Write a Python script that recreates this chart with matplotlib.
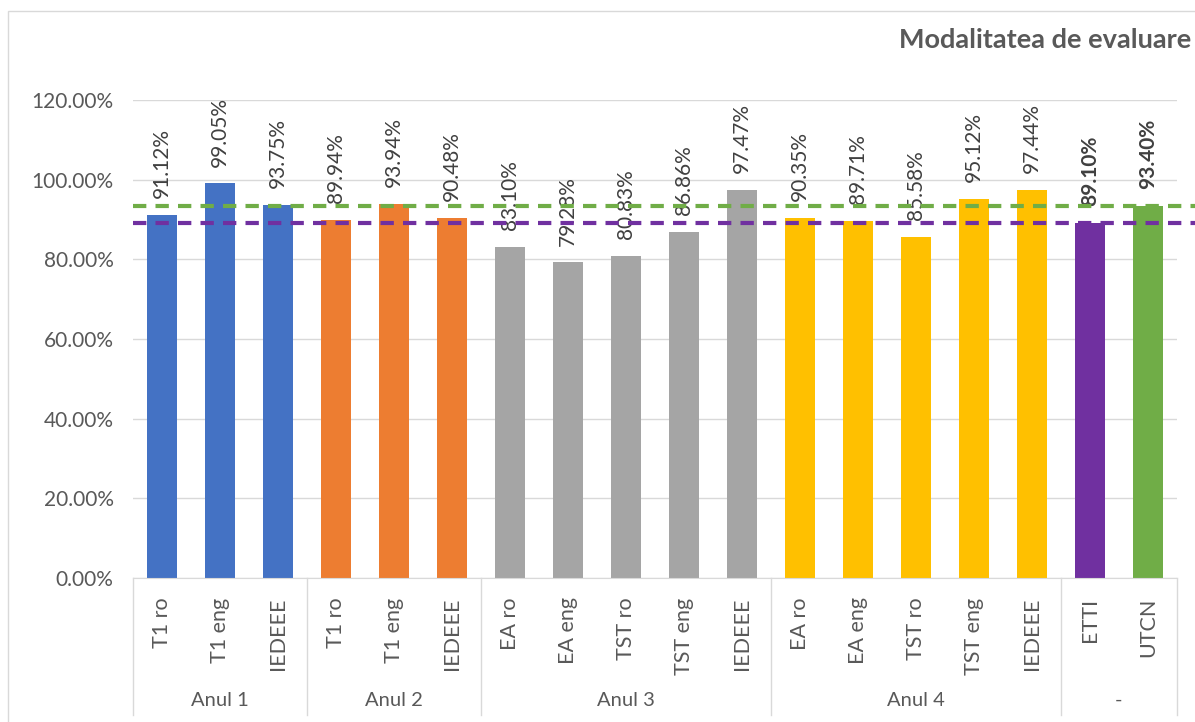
import matplotlib
matplotlib.use("Agg")
import matplotlib.pyplot as plt
from matplotlib.patches import Rectangle
from matplotlib.ticker import FuncFormatter

plt.rcParams['font.family'] = ['Lato', 'DejaVu Sans']

# date
categorii = ['T1 ro', 'T1 eng', 'IEDEEE',
             'T1 ro', 'T1 eng', 'IEDEEE',
             'EA ro', 'EA eng', 'TST ro', 'TST eng', 'IEDEEE',
             'EA ro', 'EA eng', 'TST ro', 'TST eng', 'IEDEEE',
             'ETTI', 'UTCN']
valori = [91.12, 99.05, 93.75,
          89.94, 93.94, 90.48,
          83.10, 79.28, 80.83, 86.86, 97.47,
          90.35, 89.71, 85.58, 95.12, 97.44,
          89.10, 93.40]
grupuri = ['Anul 1', 'Anul 2', 'Anul 3', 'Anul 4', '-']
marimi_grup = [3, 3, 5, 5, 2]
culori_grup = ['#4472C4', '#ED7D31', '#A5A5A5', '#FFC000', None]
culori_final = ['#7030A0', '#70AD47']
medie_etti = 89.10
medie_utcn = 93.40

culori = []
for c, n in zip(culori_grup, marimi_grup):
    if c is not None:
        culori += [c] * n
culori += culori_final

W, H = 1195, 722
fig = plt.figure(figsize=(W / 100, H / 100), dpi=100)
fig.patches.append(Rectangle((8 / W, -0.1), 1.2, (H - 11) / H + 0.1,
                             transform=fig.transFigure, fill=False,
                             edgecolor='#d9d9d9', linewidth=1))

ax = fig.add_axes([133 / W, (H - 578) / H, (1177 - 133) / W, (578 - 100) / H])
x = list(range(len(valori)))
ax.bar(x, [v / 100 for v in valori], width=0.52, color=culori, zorder=2)

ax.set_xlim(-0.5, len(valori) - 0.5)
ax.set_ylim(0, 1.2)
ax.set_yticks([i * 0.2 for i in range(7)])
ax.yaxis.set_major_formatter(FuncFormatter(lambda v, p: f'{v * 100:.2f}%'))
ax.grid(axis='y', color='#d9d9d9', linewidth=1, zorder=0)
for s in ['top', 'right', 'left']:
    ax.spines[s].set_visible(False)
ax.spines['bottom'].set_color('#d9d9d9')
ax.tick_params(axis='y', length=0, pad=14, labelsize=15, labelcolor='#595959')
ax.tick_params(axis='x', length=0, pad=14, labelsize=15.5, labelcolor='#595959')
ax.set_xticks(x)
ax.set_xticklabels(categorii, rotation=90)

# etichete
for i, v in enumerate(valori):
    bold = i >= len(valori) - 2
    ax.annotate(f'{v:.2f}%', (i, v / 100), xytext=(0, 12), textcoords='offset points',
                rotation=90, ha='center', va='bottom', fontsize=15, color='#404040',
                fontweight='bold' if bold else 'normal', zorder=3)

# grupuri pe axa x
start = -0.5
sep_y = -(715 - 578) / 478
ax.plot([start, start], [0, sep_y], transform=ax.get_xaxis_transform(),
        color='#d9d9d9', linewidth=1, clip_on=False)
for g, n in zip(grupuri, marimi_grup):
    end = start + n
    ax.plot([end, end], [0, sep_y], transform=ax.get_xaxis_transform(),
            color='#d9d9d9', linewidth=1, clip_on=False)
    ax.text((start + end) / 2, -(700 - 578) / 478, g, transform=ax.get_xaxis_transform(),
            ha='center', va='center', fontsize=14.5, color='#595959')
    start = end

# linii medii
for val, col in [(medie_utcn, '#70AD47'), (medie_etti, '#7030A0')]:
    ax.plot([-0.5, len(valori) - 0.5 + 0.35], [val / 100, val / 100], color=col,
            linewidth=3, dashes=(3.2, 2.2), clip_on=False, zorder=5)

fig.text(0.997, (H - 40) / H, 'Modalitatea de evaluare', ha='right', va='center',
         fontsize=19.5, fontweight='bold', color='#595959')

fig.savefig('out.png', dpi=100)
